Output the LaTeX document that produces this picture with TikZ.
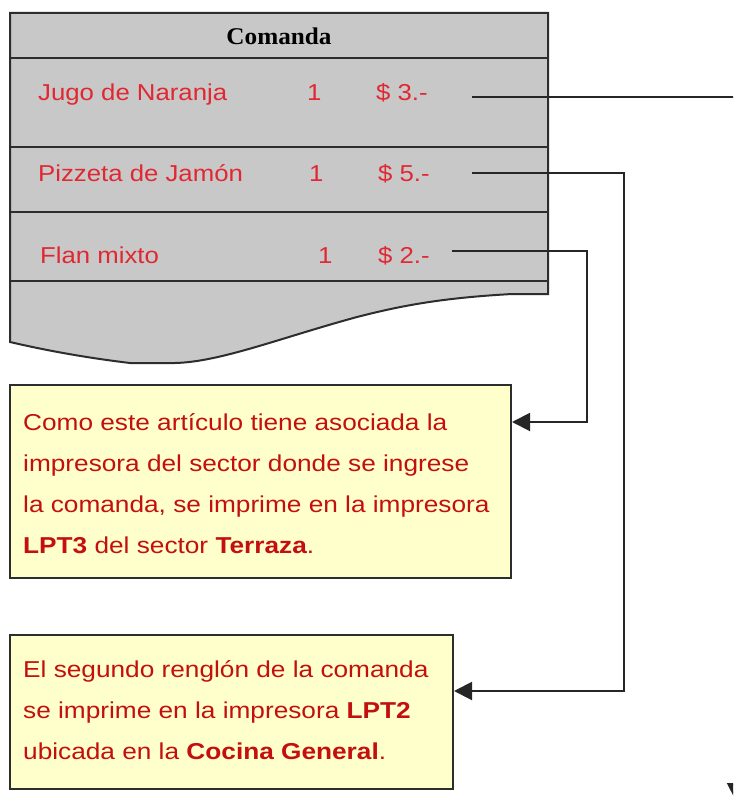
\documentclass[tikz,border=0pt]{standalone}
\usepackage{fontspec}
\setmainfont{Liberation Sans}
\newfontfamily\rowfont[FakeStretch=1.12]{Liberation Sans}
\newfontfamily\boxfont[FakeStretch=1.14]{Liberation Sans}
\newfontfamily\headfont[FakeStretch=1.05]{Liberation Serif}
\usetikzlibrary{arrows.meta,calc}
\definecolor{docgray}{RGB}{200,200,200}
\definecolor{rowred}{RGB}{225,40,50}
\definecolor{boxred}{RGB}{195,15,15}
\definecolor{noteyellow}{RGB}{255,255,204}
\definecolor{edgegray}{RGB}{45,45,45}
\tikzset{
  rowtxt/.style={anchor=base west, inner sep=0pt, text=rowred, font=\rowfont\fontsize{23}{27}\selectfont},
  boxtxt/.style={anchor=base west, inner sep=0pt, text=boxred, font=\boxfont\fontsize{23}{27}\selectfont},
  note/.style={draw=edgegray, fill=noteyellow, line width=2pt, anchor=north west, inner sep=0pt},
  docline/.style={draw=edgegray, line width=2pt},
  conn/.style={draw=black!85, line width=2pt},
  arr/.style={conn, -{Triangle[length=18pt,width=18pt]}}
}
\begin{document}
\begin{tikzpicture}[x=1pt,y=-1pt]
\useasboundingbox (0,0) rectangle (733,799);
\clip (0,0) rectangle (733,799);
\fill[white] (0,0) rectangle (733,799);

% document (comanda)
\path[docline, fill=docgray] (10,13) -- (548,13) -- (548,294) -- (512,294)
  .. controls (440,298) and (400,306) .. (357,317)
  .. controls (280,338) and (220,362) .. (175,363) -- (130,363)
  .. controls (80,357) and (40,349) .. (10,342) -- cycle;
\draw[docline] (10,58) -- (548,58);
\draw[docline] (10,147) -- (548,147);
\draw[docline] (10,212) -- (548,212);
\draw[docline] (10,281) -- (548,281);

\node[anchor=base, inner sep=0pt, font=\headfont\bfseries\fontsize{24}{28}\selectfont] (title) at (279,45) {Comanda};

\node[rowtxt] (r1n) at (38,101) {Jugo de Naranja};
\node[rowtxt] (r1q) at (307,101) {1};
\node[rowtxt] (r1p) at (376,101) {\$ 3.-};
\node[rowtxt] (r2n) at (38,182) {Pizzeta de Jamón};
\node[rowtxt] (r2q) at (309,182) {1};
\node[rowtxt] (r2p) at (378,182) {\$ 5.-};
\node[rowtxt] (r3n) at (40,264) {Flan mixto};
\node[rowtxt] (r3q) at (318,264) {1};
\node[rowtxt] (r3p) at (378,264) {\$ 2.-};

% note boxes
\node[note, minimum width=501pt, minimum height=193pt] (box1) at (9,384) {};
\node[note, minimum width=443pt, minimum height=154pt] (box2) at (9,634) {};

\node[boxtxt] (b1l1) at (23,430) {Como este artículo tiene asociada la};
\node[boxtxt] (b1l2) at (23,471) {impresora del sector donde se ingrese};
\node[boxtxt] (b1l3) at (23,512) {la comanda, se imprime en la impresora};
\node[boxtxt] (b1l4) at (23,553) {\textbf{LPT3} del sector \textbf{Terraza}.};

\node[boxtxt] (b2l1) at (23,677) {El segundo renglón de la comanda};
\node[boxtxt] (b2l2) at (23,718) {se imprime en la impresora \textbf{LPT2}};
\node[boxtxt] (b2l3) at (23,759) {ubicada en la \textbf{Cocina General}.};

% connectors
\coordinate (s1) at (472,97);
\coordinate (s2) at (472,173);
\coordinate (s3) at (452,251);
\coordinate (k1) at (587,422);
\coordinate (k2) at (624,691);
\coordinate (k3) at (736,801);

\draw[arr] (s3) -- (s3 -| k1) -- (k1) -- (k1 -| box1.east);
\draw[arr] (s2) -- (s2 -| k2) -- (k2) -- (k2 -| box2.east);
\draw[arr] (s1) -- (s1 -| k3) -- (k3);
\end{tikzpicture}
\end{document}
